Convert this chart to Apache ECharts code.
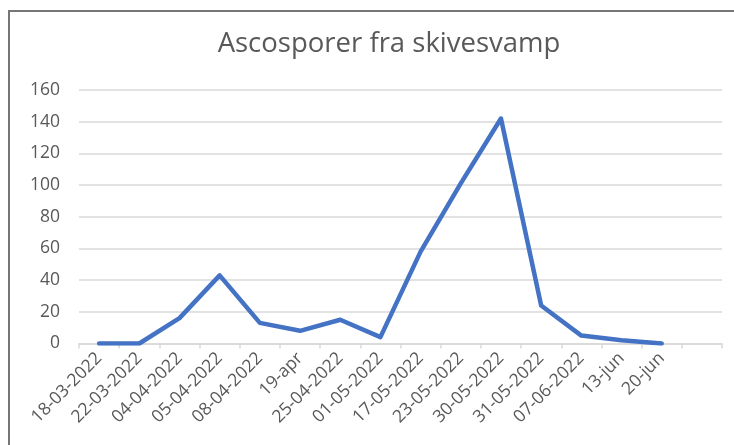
<!DOCTYPE html>
<html>
<head>
<meta charset="utf-8">
<script src="https://cdn.jsdelivr.net/npm/echarts@6/dist/echarts.min.js"></script>
<style>
html,body{margin:0;padding:0;background:#fff;}
#c{width:734px;height:445px;}
</style>
</head>
<body>
<div id="c"></div>
<script>
const categories = ['18-03-2022','22-03-2022','04-04-2022','05-04-2022','08-04-2022','19-apr','25-04-2022','01-05-2022','17-05-2022','23-05-2022','30-05-2022','31-05-2022','07-06-2022','13-jun','20-jun',''];
const values = [0,0,16,43,13,8,15,4,58,101,142,24,5,2,0,null];
const yTicks = [0,20,40,60,80,100,120,140,160];
const titleText = 'Ascosporer fra skivesvamp';

const chart = echarts.init(document.getElementById('c'), null, {renderer:'canvas'});
const font = '"Open Sans", sans-serif';
chart.setOption({
  animation:false,
  backgroundColor:'#fff',
  title:{
    text:titleText, left:384, top:25, textAlign:'center',
    textStyle:{fontFamily:font, fontSize:27.5, fontWeight:'normal', color:'#595959'}
  },
  graphic:[{
    type:'rect', shape:{x:9,y:11,width:800,height:500},
    style:{fill:'none', stroke:'#767676', lineWidth:2}, silent:true
  }],
  grid:{left:79, right:12, top:90, bottom:101.5, containLabel:false},
  xAxis:{
    type:'category', data:categories, boundaryGap:true,
    axisLine:{lineStyle:{color:'#d9d9d9', width:1.5}},
    axisTick:{show:true, interval:0, length:5, alignWithLabel:false, lineStyle:{color:'#d9d9d9', width:1.5}},
    axisLabel:{interval:0, rotate:45, fontFamily:font, fontSize:17.5, color:'#595959', margin:12}
  },
  yAxis:{
    type:'value', min:yTicks[0], max:yTicks[yTicks.length-1], interval:20,
    axisLine:{show:false}, axisTick:{show:false},
    splitLine:{lineStyle:{color:'#d9d9d9', width:1.5}},
    axisLabel:{fontFamily:font, fontSize:17.5, color:'#595959', margin:19}
  },
  series:[{
    type:'line', data:values, symbol:'none', connectNulls:false,
    lineStyle:{color:'#4472C4', width:4.5, join:'round', cap:'round'}
  }]
});
</script>
</body>
</html>
